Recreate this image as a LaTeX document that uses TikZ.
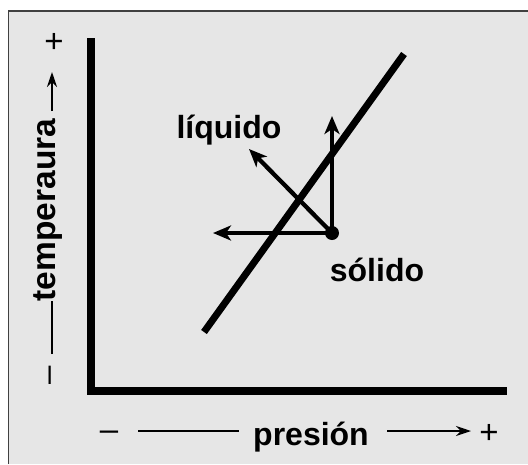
\documentclass[tikz,border=0pt]{standalone}
\usepackage{fontspec}
\setmainfont{Liberation Sans}
\usetikzlibrary{arrows.meta,positioning}
\definecolor{panel}{HTML}{E6E6E6}
\tikzset{lbl/.style={font=\fontsize{32}{32}\selectfont\bfseries, inner sep=0pt},
  sgn/.style={font=\fontsize{33}{33}\selectfont, inner sep=0pt},
  guide/.style={line width=1.7pt},
  guidearr/.style={guide, -{Stealth[length=15pt, width=10pt]}},
  mv/.style={line width=4.3pt, -{Stealth[length=18pt, width=15pt, inset=5pt]}}}

\begin{document}
\begin{tikzpicture}[x=1pt, y=-1pt]
  \useasboundingbox (0,0) rectangle (528,464);
  % panel
  \fill[panel] (9,10) rectangle (528,464);
  \draw[line width=1.6pt, black!75] (8.5,464) -- (8.5,10.8) -- (528,10.8);
  % axes
  \draw[line width=7.5pt] (91,38) -- (91,391) -- (507,391);
  % melting line
  \coordinate (m1) at (204,332);
  \coordinate (m2) at (404,54);
  \draw[line width=7pt] (m1) -- (m2);
  % state point and its moves
  \node[circle, fill, inner sep=0pt, minimum size=14pt] (sol) at (332,233) {};
  \coordinate (up) at (332,116);
  \coordinate (lft) at (213,233);
  \coordinate (dg) at (249,149);
  \draw[mv] (sol.center) -- (up);
  \draw[mv] (sol.center) -- (lft);
  \draw[mv] (sol.center) -- (dg);
  \node[lbl, anchor=base] (liq) at (229,138) {líquido};
  \node[lbl, anchor=base] (sld) at (377,281) {sólido};
  % pressure axis label
  \node[lbl, anchor=base] (pres) at (311,445) {presión};
  \node[sgn] (pneg) at (109,436) {–};
  \node[sgn] (ppos) at (489,434) {+};
  \coordinate (pa) at (138,431);
  \coordinate (pb) at (239,431);
  \coordinate (pc) at (387,431);
  \coordinate (pd) at (471,431);
  \draw[guide] (pa) -- (pb);
  \draw[guidearr] (pc) -- (pd);
  % temperature axis label
  \node[lbl, anchor=base, rotate=90, font=\fontsize{33.5}{33.5}\selectfont\bfseries] (temp) at (55,210) {temperaura};
  \node[sgn] (tpos) at (54,43) {+};
  \node[sgn, rotate=90] (tneg) at (54,375) {–};
  \coordinate (ta) at (52,354);
  \coordinate (tb) at (52,301);
  \coordinate (tc) at (52,111);
  \coordinate (td) at (52,72);
  \draw[guide] (ta) -- (tb);
  \draw[guidearr] (tc) -- (td);
\end{tikzpicture}
\end{document}
